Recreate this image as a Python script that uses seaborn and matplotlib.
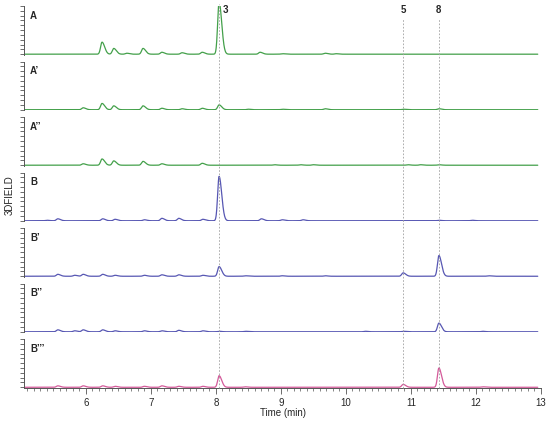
import numpy as np
import pandas as pd
import matplotlib.pyplot as plt
import matplotlib.transforms as mtransforms
from matplotlib.lines import Line2D
import seaborn as sns

# Panel labels and trace colours
panel_labels = ["A", "A’", "A’’", "B", "B’", "B’’", "B’’’"]
panel_colors = ["#43a04a", "#43a04a", "#43a04a", "#5757b3", "#5757b3", "#5757b3", "#d45a9a"]

# Peak retention times (min) and relative heights
times_A = [6.25, 6.43, 6.63, 6.88, 7.17, 7.48, 7.79, 8.05, 8.68, 9.02, 9.68, 9.85]
heights_A = [0.25, 0.12, 0.02, 0.12, 0.04, 0.03, 0.04, 1.08, 0.04, 0.01, 0.02, 0.01]

times_A1 = [5.96, 6.25, 6.43, 6.88, 7.17, 7.48, 7.79, 8.05, 8.5, 9.02, 9.68, 10.88, 11.43]
heights_A1 = [0.04, 0.13, 0.08, 0.08, 0.03, 0.02, 0.03, 0.10, 0.01, 0.01, 0.02, 0.01, 0.02]

times_A2 = [5.96, 6.25, 6.43, 6.88, 7.17, 7.79, 8.9, 9.3, 9.5, 10.95, 11.15, 11.43]
heights_A2 = [0.03, 0.13, 0.09, 0.08, 0.03, 0.04, 0.01, 0.01, 0.01, 0.01, 0.01, 0.01]

times_B = [5.4, 5.57, 6.26, 6.45, 6.9, 7.17, 7.43, 7.8, 8.05, 8.7, 9.02, 9.34, 11.43, 11.94]
heights_B = [0.01, 0.04, 0.04, 0.03, 0.02, 0.05, 0.05, 0.03, 0.92, 0.04, 0.02, 0.02, 0.01, 0.01]

times_B1 = [5.57, 5.83, 5.96, 6.26, 6.45, 6.9, 7.17, 7.43, 7.8, 8.05, 8.45, 9.02, 9.68, 10.88, 11.43, 12.19]
heights_B1 = [0.04, 0.02, 0.04, 0.04, 0.02, 0.02, 0.03, 0.03, 0.02, 0.20, 0.01, 0.01, 0.01, 0.07, 0.43, 0.01]

times_B2 = [5.57, 5.83, 5.96, 6.26, 6.45, 6.9, 7.17, 7.43, 7.8, 8.05, 8.45, 10.3, 10.88, 11.43, 12.1]
heights_B2 = [0.04, 0.02, 0.04, 0.04, 0.02, 0.02, 0.02, 0.03, 0.02, 0.01, 0.01, 0.01, 0.01, 0.18, 0.01]

times_B3 = [5.57, 5.96, 6.26, 6.45, 6.9, 7.17, 7.43, 7.8, 8.05, 8.45, 10.88, 11.43, 12.1]
heights_B3 = [0.03, 0.03, 0.03, 0.02, 0.02, 0.03, 0.02, 0.02, 0.24, 0.01, 0.06, 0.40, 0.01]

# Marked compounds
marker_times = [8.05, 10.88, 11.43]
marker_names = ["3", "5", "8"]

x_ticks = [6, 7, 8, 9, 10, 11, 12, 13]

all_times = [times_A, times_A1, times_A2, times_B, times_B1, times_B2, times_B3]
all_heights = [heights_A, heights_A1, heights_A2, heights_B, heights_B1, heights_B2, heights_B3]


def trace(t, times, heights):
    # tailing peaks: narrow front, wider back
    y = np.zeros_like(t)
    for rt, h in zip(times, heights):
        s = np.where(t < rt, 0.022, 0.04)
        y += h * np.exp(-0.5 * ((t - rt) / s) ** 2)
    return y


sns.set_style("ticks")
plt.rcParams['font.family'] = ['Liberation Sans', 'DejaVu Sans']

fig, axes = plt.subplots(nrows=7, ncols=1, figsize=(5.5, 4.21), dpi=100, sharex=True)
fig.subplots_adjust(left=24 / 550, right=541 / 550, top=1 - 6 / 421, bottom=1 - 388 / 421, hspace=0.135)

t = np.linspace(5.05, 12.95, 3000)
axis_col = "#555555"

for i, ax in enumerate(axes):
    ax.set_facecolor('none')
    df = pd.DataFrame({'time': t, 'signal': trace(t, all_times[i], all_heights[i])})
    sns.lineplot(x='time', y='signal', data=df, ax=ax, color=panel_colors[i], lw=0.9,
                 estimator=None, sort=False)
    ax.set_xlim(5.05, 13)
    ax.set_ylim(-0.015, 1.0)
    ax.set_yticks(np.arange(0, 1.01, 0.1))
    ax.set_yticklabels([])
    ax.set_ylabel('')
    ax.set_xlabel('')
    ax.tick_params(axis='y', length=3, width=0.6, color=axis_col, direction='out')
    for side in ['top', 'right', 'bottom']:
        ax.spines[side].set_visible(False)
    ax.spines['left'].set_color(axis_col)
    ax.spines['left'].set_linewidth(0.7)
    ax.text(0.012, 0.8, panel_labels[i], transform=ax.transAxes, fontsize=7,
            fontweight='bold', va='center', ha='left')
    if i < 6:
        ax.tick_params(axis='x', which='both', bottom=False, labelbottom=False)

# Bottom axis with time ticks
bx = axes[-1]
bx.spines['bottom'].set_visible(True)
bx.spines['bottom'].set_color(axis_col)
bx.spines['bottom'].set_linewidth(0.7)
bx.set_xticks(x_ticks)
bx.set_xticklabels([str(v) for v in x_ticks], fontsize=7)
bx.set_xticks(np.arange(5.1, 13.0, 0.1), minor=True)
bx.tick_params(axis='x', which='major', bottom=True, length=4, width=0.6, color=axis_col, pad=3)
bx.tick_params(axis='x', which='minor', bottom=True, length=2, width=0.5, color=axis_col)
fig.text((24 + 541) / 2 / 550, 1 - 413 / 421, 'Time (min)', fontsize=7, ha='center', va='center')

# Dotted guide lines through all traces
trans = mtransforms.blended_transform_factory(bx.transData, fig.transFigure)
y_bottom = 1 - 388 / 421
for rt, name in zip(marker_times, marker_names):
    y_top = 1 - 4 / 421 if name == "3" else 1 - 18 / 421
    fig.add_artist(Line2D([rt, rt], [y_bottom, y_top], transform=trans, color='#a0a0a0',
                          lw=0.6, ls=(0, (2, 2)), zorder=5))
    if name == "3":
        fig.text(rt + 0.05, 1 - 10 / 421, name, transform=trans, fontsize=7,
                 fontweight='bold', ha='left', va='center')
    else:
        fig.text(rt, 1 - 10 / 421, name, transform=trans, fontsize=7,
                 fontweight='bold', ha='center', va='center')

fig.text(10 / 550, 1 - 195 / 421, '3DFIELD', rotation=90, fontsize=7, ha='center', va='center')

plt.savefig('out.png', dpi=100)
